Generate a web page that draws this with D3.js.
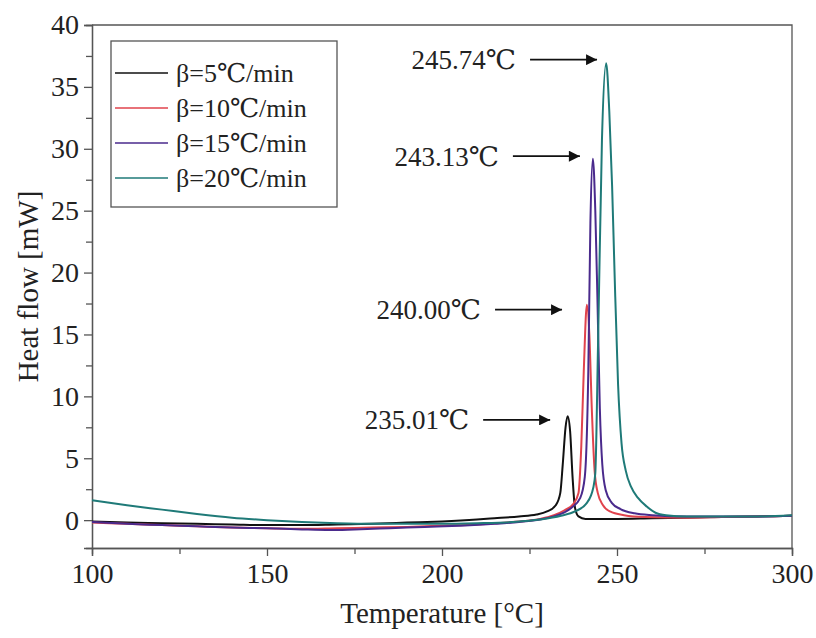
<!DOCTYPE html>
<html>
<head>
<meta charset="utf-8">
<script src="https://cdn.jsdelivr.net/npm/d3@7"></script>
<style>
  body { margin: 0; background: #fff; }
  text { font-family: "Liberation Serif", "DejaVu Serif", serif; fill: #222; }
</style>
</head>
<body>
<div id="chart"></div>
<script>
// heating rates (legend)
const rates = ['β=5℃/min', 'β=10℃/min', 'β=15℃/min', 'β=20℃/min'];
const colors = ['#111111', '#e0434c', '#4a2a8c', '#1f7a78'];

// DSC curves: [temperature, heat flow]
const beta5 = [[100,-0.1],[110,-0.2],[120,-0.25],[130,-0.3],[140,-0.35],[150,-0.4],[160,-0.4],[170,-0.35],[180,-0.3],[190,-0.2],[200,-0.1],[210,0.05],[215,0.15],[222,0.3],[227,0.45],[230,0.7],[232.5,1.2],[233.8,2.2],[234.5,4.5],[235.3,7.5],[235.9,8.4],[236.6,7.2],[237.3,3.5],[238,1.0],[239,0.3],[241,0.1],[250,0.1],[260,0.15],[270,0.2],[280,0.25],[290,0.3],[300,0.35]];
const beta10 = [[100,-0.2],[110,-0.3],[120,-0.4],[130,-0.5],[140,-0.6],[150,-0.65],[160,-0.7],[170,-0.65],[180,-0.6],[190,-0.55],[200,-0.45],[210,-0.35],[220,-0.15],[228,0.1],[232,0.4],[235,0.8],[237.5,1.3],[239,2.2],[239.8,6],[240.5,12],[241.4,17.4],[242.1,15],[242.8,9],[243.6,4],[244.5,2.2],[246,1.2],[248,0.7],[252,0.4],[258,0.25],[270,0.2],[280,0.25],[290,0.3],[300,0.35]];
const beta15 = [[100,-0.15],[110,-0.3],[120,-0.4],[130,-0.5],[140,-0.6],[150,-0.65],[160,-0.75],[168,-0.8],[175,-0.75],[185,-0.65],[195,-0.55],[205,-0.45],[215,-0.3],[222,-0.15],[228,0.05],[233,0.4],[237,1.0],[239.5,1.8],[240.8,3.5],[241.8,12],[242.4,24],[243.1,29.2],[243.8,25],[244.4,18],[245.1,9],[245.8,4.5],[246.8,2.4],[248.5,1.4],[251,0.9],[255,0.55],[260,0.4],[270,0.3],[280,0.3],[290,0.3],[300,0.35]];
const beta20 = [[100,1.6],[110,1.2],[120,0.85],[130,0.5],[140,0.2],[150,0],[160,-0.15],[170,-0.25],[180,-0.3],[190,-0.3],[200,-0.3],[210,-0.25],[220,-0.15],[228,0.05],[234,0.35],[238,0.7],[241.4,1.4],[243.2,2.6],[243.8,3.8],[244.6,14.5],[245.7,30.7],[246.9,36.9],[247.8,33],[248.6,27],[249.3,20],[250.3,11],[251.3,6.2],[252.5,4],[254,2.7],[256,1.8],[258.5,1.1],[261,0.6],[264,0.4],[270,0.3],[280,0.3],[290,0.3],[300,0.4]];
const series = [beta5, beta10, beta15, beta20];

// peak annotations
const peakLabels = ['235.01℃', '240.00℃', '243.13℃', '245.74℃'];
const peakTips = [230.9, 234.3, 239.4, 244.3];   // where each arrow ends (°C)
const peakHeights = [8.1, 17.0, 29.4, 37.2];

const xTicks = [100, 150, 200, 250, 300];
const yTicks = [0, 5, 10, 15, 20, 25, 30, 35, 40];

const margin = { top: 25, right: 24, bottom: 90, left: 92 },
  width = 816 - margin.left - margin.right,
  height = 638 - margin.top - margin.bottom;

const svg = d3.select('#chart').append('svg')
  .attr('width', 816)
  .attr('height', 638);

const g = svg.append('g')
  .attr('transform', `translate(${margin.left},${margin.top})`);

const x = d3.scaleLinear().domain([100, 300]).range([0, width]);
const y = d3.scaleLinear().domain([-2.25, 40]).range([height, 0]);

// minor ticks first, then major axes
g.append('g')
  .attr('transform', `translate(0,${height})`)
  .call(d3.axisBottom(x).tickValues([125, 175, 225, 275]).tickSize(6).tickFormat(''));
g.append('g')
  .call(d3.axisLeft(y).tickValues([2.5, 7.5, 12.5, 17.5, 22.5, 27.5, 32.5, 37.5]).tickSize(6).tickFormat(''));

const xAxis = g.append('g')
  .attr('transform', `translate(0,${height})`)
  .call(d3.axisBottom(x).tickValues(xTicks).tickSize(8).tickPadding(7));
const yAxis = g.append('g')
  .call(d3.axisLeft(y).tickValues(yTicks).tickSize(8).tickPadding(5));

[xAxis, yAxis].forEach((a) => {
  a.selectAll('text').style('font-size', '28px').style('font-family', '"Liberation Serif", serif').attr('fill', '#222');
});
g.selectAll('.domain, .tick line').attr('stroke', '#555').attr('stroke-width', 1.3);

// frame top + right
g.append('path')
  .attr('d', `M0,0H${width}V${height}`)
  .attr('fill', 'none')
  .attr('stroke', '#555')
  .attr('stroke-width', 1.3);

const line = d3.line()
  .x((d) => x(d[0]))
  .y((d) => y(d[1]))
  .curve(d3.curveMonotoneX);

g.append('g').selectAll('path')
  .data(series)
  .enter().append('path')
  .attr('d', line)
  .attr('fill', 'none')
  .attr('stroke', (d, i) => colors[i])
  .attr('stroke-width', 2);

// arrows
svg.append('defs').append('marker')
  .attr('id', 'head')
  .attr('viewBox', '0 0 10 10')
  .attr('refX', 10).attr('refY', 5)
  .attr('markerWidth', 22).attr('markerHeight', 11)
  .attr('markerUnits', 'userSpaceOnUse')
  .attr('orient', 'auto')
  .append('path')
  .attr('d', 'M0,0L10,5L0,10z')
  .attr('fill', '#111');

const ann = g.append('g');
peakLabels.forEach((lab, i) => {
  const tx = x(peakTips[i]), ty = y(peakHeights[i]);
  ann.append('line')
    .attr('x1', tx - 67).attr('x2', tx)
    .attr('y1', ty).attr('y2', ty)
    .attr('stroke', '#111')
    .attr('stroke-width', 1.8)
    .attr('marker-end', 'url(#head)');
  ann.append('text')
    .attr('x', tx - 81)
    .attr('y', ty)
    .attr('dy', '0.35em')
    .attr('text-anchor', 'end')
    .style('font-size', '27px')
    .text(lab);
});

// legend
const lg = g.append('g').attr('transform', 'translate(19,16)');
lg.append('rect')
  .attr('width', 226).attr('height', 166)
  .attr('fill', '#fff')
  .attr('stroke', '#555')
  .attr('stroke-width', 1.3);
rates.forEach((r, i) => {
  const ly = 32 + i * 35;
  lg.append('line')
    .attr('x1', 4).attr('x2', 57)
    .attr('y1', ly).attr('y2', ly)
    .attr('stroke', colors[i])
    .attr('stroke-width', 1.5);
  lg.append('text')
    .attr('x', 65).attr('y', ly)
    .attr('dy', '0.35em')
    .style('font-size', '26px')
    .text(r);
});

// axis titles
svg.append('text')
  .attr('x', margin.left + width / 2)
  .attr('y', 623)
  .attr('text-anchor', 'middle')
  .style('font-size', '29px')
  .text('Temperature [°C]');
svg.append('text')
  .attr('transform', `translate(38,${margin.top + height / 2}) rotate(-90)`)
  .attr('text-anchor', 'middle')
  .style('font-size', '29px')
  .text('Heat flow [mW]');
</script>
</body>
</html>
